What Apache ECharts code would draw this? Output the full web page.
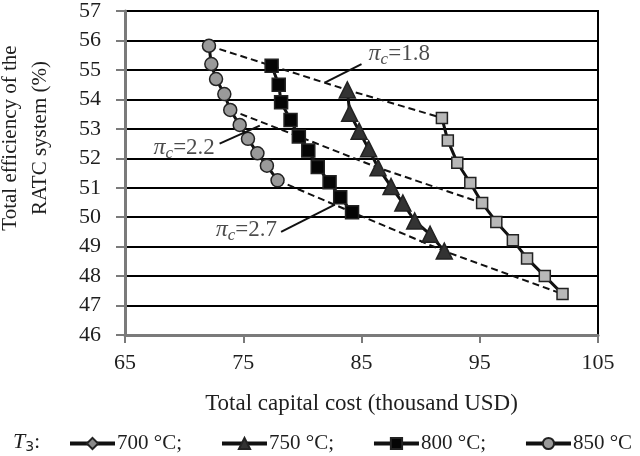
<!DOCTYPE html>
<html><head><meta charset="utf-8">
<script src="https://cdn.jsdelivr.net/npm/echarts@6/dist/echarts.min.js"></script>
<style>html,body{margin:0;padding:0;background:#fff}#c{width:640px;height:456px}</style>
</head><body><div id="c"></div>
<script>
// Data: [total capital cost (thousand USD), total efficiency (%)], pi_c = 1.8 ... 2.7
const cost700 = [91.8, 92.3, 93.1, 94.2, 95.2, 96.4, 97.8, 99.0, 100.5, 102.0];
const eff700  = [53.37, 52.60, 51.85, 51.16, 50.48, 49.84, 49.22, 48.60, 48.00, 47.39];
const cost750 = [83.8, 84.0, 84.8, 85.6, 86.4, 87.5, 88.5, 89.5, 90.8, 92.0];
const eff750  = [54.32, 53.53, 52.92, 52.32, 51.68, 51.04, 50.48, 49.87, 49.42, 48.85];
const cost800 = [77.4, 78.0, 78.2, 79.0, 79.7, 80.5, 81.3, 82.3, 83.2, 84.2];
const eff800  = [55.14, 54.50, 53.90, 53.30, 52.74, 52.26, 51.70, 51.19, 50.68, 50.17];
const cost850 = [72.1, 72.3, 72.7, 73.4, 73.9, 74.7, 75.4, 76.2, 77.0, 77.9];
const eff850  = [55.82, 55.20, 54.69, 54.18, 53.64, 53.13, 52.66, 52.17, 51.75, 51.25];
const seriesNames = ['700 °C;', '750 °C;', '800 °C;', '850 °C'];
const piLabels = ['1.8', '2.2', '2.7'];
const piIndex = [0, 4, 9];
// annotation label anchors and leader lines (data units)
const piLabelPos = [[85.6, 55.54], [72.6, 52.36], [77.85, 49.56]];
const piLabelAlign = ['left', 'right', 'right'];
const piLeader = [[[81.9, 54.57], [85.0, 55.20]], [[73.0, 52.50], [76.4, 53.11]], [[78.2, 49.50], [82.75, 50.43]]];
const xTicks = {min: 65, max: 105, interval: 10};
const yTicks = {min: 46, max: 57, interval: 1};

const FONT = 'Liberation Serif';
const TXT = '#1e1e1e';
function zip(xs, ys) { return xs.map((x, i) => [x, ys[i]]); }
const curves = [
  {data: zip(cost700, eff700), symbol: 'rect', size: 11, fill: '#b8b8b8'},
  {data: zip(cost750, eff750), symbol: 'triangle', size: 16, fill: '#333333'},
  {data: zip(cost800, eff800), symbol: 'rect', size: 13, fill: '#050505'},
  {data: zip(cost850, eff850), symbol: 'circle', size: 13, fill: '#9a9a9a'}
];
const order = [3, 2, 1, 0];
const series = [];
// dashed iso-pi lines through the matching points of each curve
piIndex.forEach((k, j) => {
  series.push({
    type: 'line', name: 'pi' + j, z: 1, silent: true, symbol: 'none',
    data: order.map(i => curves[i].data[k]),
    lineStyle: {color: '#111', width: 2, type: [7, 4]}
  });
});
// data curves
curves.forEach((c, i) => {
  series.push({
    type: 'line', name: i === 0 ? seriesNames[0] + ' ' : seriesNames[i], z: 3,
    data: c.data, symbol: c.symbol, symbolSize: c.size,
    lineStyle: {color: '#111', width: 3},
    itemStyle: {color: c.fill, borderColor: '#222', borderWidth: 1.5}
  });
});
// legend-only entry for 700 °C (diamond icon as in the reference)
series.push({
  type: 'line', name: seriesNames[0], data: [], symbol: 'diamond', symbolSize: 13,
  lineStyle: {color: '#111', width: 3},
  itemStyle: {color: '#8a8a8a', borderColor: '#222', borderWidth: 1.5}
});
// leader lines
piLeader.forEach((seg, j) => {
  series.push({type: 'line', name: 'lead' + j, z: 4, silent: true, symbol: 'none', data: seg,
    lineStyle: {color: '#111', width: 2}});
});
// annotation labels
series.push({
  type: 'scatter', name: 'piLabels', z: 5, silent: true, symbolSize: 0,
  data: piLabelPos.map((p, j) => ({value: p, label: {align: piLabelAlign[j]}})),
  label: {
    show: true, position: 'inside', verticalAlign: 'middle',
    formatter: (p) => '{pi|π}{sub|c}{n|=' + piLabels[p.dataIndex] + '}',
    rich: {
      pi: {fontFamily: FONT, fontStyle: 'italic', fontSize: 24, color: TXT},
      sub: {fontFamily: FONT, fontStyle: 'italic', fontSize: 17, color: TXT, padding: [11, 0, 0, 0]},
      n: {fontFamily: FONT, fontSize: 23, color: TXT}
    }
  }
});

const chart = echarts.init(document.getElementById('c'), null, {renderer: 'canvas'});
chart.setOption({
  animation: false,
  backgroundColor: '#fff',
  grid: {left: 125, right: 42, top: 10, bottom: 121, show: true, borderColor: '#000', borderWidth: 2},
  xAxis: {
    type: 'value', min: xTicks.min, max: xTicks.max, interval: xTicks.interval,
    name: 'Total capital cost (thousand USD)', nameLocation: 'middle', nameGap: 57,
    nameTextStyle: {fontFamily: FONT, fontSize: 23, color: TXT},
    axisLine: {lineStyle: {color: '#7a7a7a', width: 3}},
    axisTick: {show: true, length: 8, lineStyle: {color: '#7a7a7a', width: 2}},
    axisLabel: {fontFamily: FONT, fontSize: 22, color: TXT, margin: 17},
    splitLine: {show: false}
  },
  yAxis: {
    type: 'value', min: yTicks.min, max: yTicks.max, interval: yTicks.interval,
    axisLine: {show: true, lineStyle: {color: '#7a7a7a', width: 3}},
    axisTick: {show: true, length: 9, lineStyle: {color: '#7a7a7a', width: 2}},
    axisLabel: {fontFamily: FONT, fontSize: 22, color: TXT, margin: 24},
    splitLine: {show: true, lineStyle: {color: '#000', width: 2}}
  },
  legend: {
    data: seriesNames, left: 63, top: 428, itemWidth: 45, itemHeight: 14, itemGap: 38,
    lineStyle: {width: 4},
    textStyle: {fontFamily: FONT, fontSize: 21, color: TXT, padding: [0, 0, 0, -3]},
    inactiveColor: '#ccc'
  },
  graphic: [
    {type: 'text', left: 13, top: 431, style: {
      text: '{t|T}{s|3}{c|:}',
      rich: {
        t: {fontFamily: FONT, fontStyle: 'italic', fontSize: 22, fill: TXT},
        s: {fontFamily: 'DejaVu Sans', fontSize: 14, fill: TXT, padding: [11, 0, 0, 0]},
        c: {fontFamily: FONT, fontSize: 21, fill: TXT}
      }}},
    {type: 'text', x: 25, y: 138, rotation: Math.PI / 2, style: {
      text: 'Total efficiency of the\nRATC system (%)', fontFamily: FONT, fontSize: 21,
      lineHeight: 30, fill: TXT, align: 'center', verticalAlign: 'middle'}}
  ],
  series: series
});
</script></body></html>
